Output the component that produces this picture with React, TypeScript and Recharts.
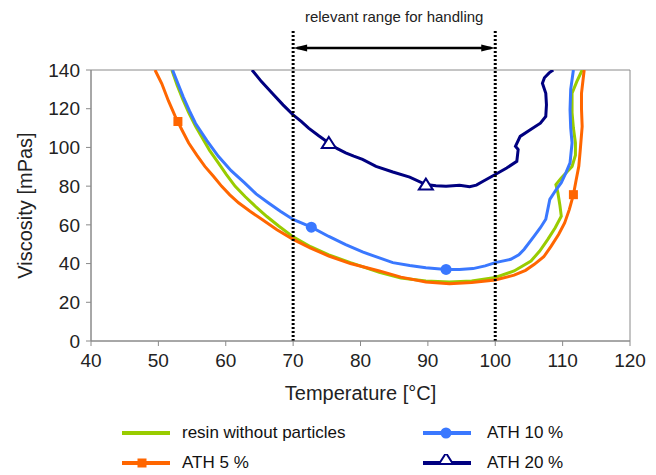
import {
  ComposedChart,
  Line,
  Scatter,
  XAxis,
  YAxis,
  ReferenceLine,
  ReferenceArea,
} from 'recharts';

const tempTicks = [40, 50, 60, 70, 80, 90, 100, 110, 120];
const viscTicks = [0, 20, 40, 60, 80, 100, 120, 140];
const handlingRange = [70, 100];
const handlingLabel = 'relevant range for handling';

// [temperature °C, viscosity mPas], read along each curve from top-left to top-right
const resinCurve = [
  [52, 140], [52.8, 132], [53.6, 125], [54.5, 118], [55.5, 111], [56.4, 105.6],
  [57.6, 98.5], [58.9, 92], [60.1, 86], [61.4, 79.9], [62.9, 74.5], [64.4, 69.6],
  [66.1, 64.3], [67.9, 59.3], [70, 53.8], [72.6, 48.7], [75.3, 44.5], [78.5, 40.5],
  [82.8, 35.5], [86, 32.5], [89.7, 31], [93.2, 30.5], [96.5, 31], [100, 32.8],
  [102.8, 36.2], [105.3, 41.3], [106.6, 46.5], [107.8, 52.5], [108.9, 58.5],
  [109.8, 64.5], [109.6, 70], [109.3, 76.5], [109, 80.8], [109.8, 84.2],
  [111.4, 90.2], [111.9, 96], [111.9, 102.3], [111.6, 110], [111.4, 118],
  [111.4, 128], [112.1, 134], [112.9, 140],
];

const ath5Curve = [
  [49.5, 140], [50.5, 133], [51.5, 124], [52.5, 116], [53.5, 109], [54.5, 102.3],
  [55.7, 96], [56.9, 90.2], [58.2, 85], [59.4, 79.9], [60.6, 75.5], [61.9, 71.4],
  [63.6, 67], [65.4, 62.8], [67.6, 57.5], [70, 52.5], [72.6, 48], [75.3, 43.9],
  [78.5, 40], [82.8, 36.2], [86, 33], [89.7, 30.5], [93.2, 29.6], [96.5, 30.2],
  [100, 31.5], [102.8, 34], [104.5, 36.5], [105.8, 39.6], [107.2, 43.5],
  [108.3, 49], [109.4, 55], [110.3, 61], [111, 68], [111.6, 75.6], [112, 83],
  [112.4, 90.2], [112.6, 98], [112.9, 110.8], [112.8, 120], [112.8, 128],
  [113.2, 140],
];

const ath10Curve = [
  [52.1, 140], [52.9, 133], [53.7, 126], [54.6, 119], [55.5, 112.5], [57.2, 103.5],
  [58.9, 95.4], [60.8, 88], [62.8, 81.7], [64.5, 76], [66.3, 71.4], [68.1, 67],
  [70, 62.8], [72.7, 58.8], [75.3, 54], [77.8, 49.8], [80.3, 46], [82.8, 42.9],
  [84.8, 40.5], [87.3, 39], [89.7, 37.9], [92.7, 37], [94.7, 37], [96.7, 37.4],
  [98.5, 38.8], [100, 40.5], [102.3, 42.2], [103.5, 44.5], [104.3, 47.4],
  [105.8, 54.3], [106.7, 58.5], [107.5, 62.9], [107.8, 68], [108.1, 73.2],
  [109, 78], [109.8, 81.8], [110.5, 87], [111.1, 92], [111.4, 102.3],
  [111.2, 110], [111.1, 119.5], [111.2, 130], [111.6, 140],
];

const ath20Curve = [
  [63.9, 140], [65.3, 134], [66.9, 128], [68.5, 122], [70, 116.8], [71.2, 113.5],
  [72.3, 110], [73.8, 106], [75.3, 102.3], [76.5, 99.5], [77.8, 97.2], [79, 95.5],
  [80.3, 93.8], [82.3, 90.2], [84.8, 87.3], [87.3, 84.7], [89.7, 80.8], [91.2, 80.2],
  [92.7, 80], [94.7, 80.5], [96.2, 79.7], [97.2, 80.5], [98.2, 82.5], [100, 86],
  [101.7, 89.4], [103.2, 92.8], [103.4, 98.9], [103, 100.6], [103.7, 105.7],
  [105.2, 109.1], [106.7, 112.5], [107.5, 116], [107.6, 122], [107.5, 128],
  [107, 133.1], [107.3, 136], [108, 138.5], [108.6, 140],
];

// single marker positions on each curve
const ath5Marks = [[52.9, 113.4], [111.6, 75.6]];
const ath10Marks = [[72.7, 58.8], [92.7, 37]];
const ath20Marks = [[75.3, 102.3], [89.7, 80.8]];

const toPts = (arr: number[][]) => arr.map(([t, v]) => ({ t, v }));

const FONT = '"Liberation Sans", Arial, sans-serif';
const AXIS = '#8a8a8a';

const series = [
  { key: 'resin', name: 'resin without particles', color: '#99cc00', curve: resinCurve, marks: [] as number[][], symbol: 'none' },
  { key: 'ath10', name: 'ATH 10 %', color: '#3a78ff', curve: ath10Curve, marks: ath10Marks, symbol: 'circle' },
  { key: 'ath5', name: 'ATH 5 %', color: '#ff6600', curve: ath5Curve, marks: ath5Marks, symbol: 'square' },
  { key: 'ath20', name: 'ATH 20 %', color: '#000080', curve: ath20Curve, marks: ath20Marks, symbol: 'triangle' },
];

function renderSymbol(symbol: string, cx: number, cy: number, color: string) {
  if (symbol === 'square') {
    return <rect x={cx - 4.5} y={cy - 4.5} width={9} height={9} fill={color} />;
  }
  if (symbol === 'circle') {
    return <circle cx={cx} cy={cy} r={5.5} fill={color} />;
  }
  if (symbol === 'triangle') {
    return (
      <polygon
        points={`${cx},${cy - 6} ${cx + 7},${cy + 5} ${cx - 7},${cy + 5}`}
        fill='#fff'
        stroke={color}
        strokeWidth={2}
      />
    );
  }
  return null;
}

function ArrowShape(props: any) {
  const { x1, y1, x2, y2 } = props;
  return (
    <g>
      <line x1={x1 + 4} y1={y1} x2={x2 - 4} y2={y2} stroke='#000' strokeWidth={2.5} />
      <polygon points={`${x1},${y1} ${x1 + 14},${y1 - 3.5} ${x1 + 14},${y1 + 3.5}`} fill='#000' />
      <polygon points={`${x2},${y2} ${x2 - 14},${y2 - 3.5} ${x2 - 14},${y2 + 3.5}`} fill='#000' />
      <text
        x={(x1 + x2) / 2}
        y={y1 - 26}
        textAnchor='middle'
        fontFamily={FONT}
        fontSize={15}
        fill='#222'
      >
        {handlingLabel}
      </text>
    </g>
  );
}

function YTitle({ viewBox }: any) {
  const x = viewBox.x + 32;
  const y = viewBox.y + viewBox.height / 2;
  return (
    <text
      x={x}
      y={y}
      transform={`rotate(-90 ${x} ${y})`}
      textAnchor='middle'
      fontFamily={FONT}
      fontSize={20}
      fill='#222'
    >
      Viscosity [mPas]
    </text>
  );
}

function LegendIcon({ color, symbol }: { color: string; symbol: string }) {
  // the legend triangle sits on the line, the other symbols are centred on it
  const cy = symbol === 'triangle' ? 5 : 9;
  const cx = symbol === 'square' ? 21 : 24;
  return (
    <svg width={50} height={18} style={{ display: 'block' }}>
      <line x1={1} y1={9} x2={49} y2={9} stroke={color} strokeWidth={4} />
      {renderSymbol(symbol, cx, cy, color)}
    </svg>
  );
}

const legendCols = [121, 422];
const legendRows = [433, 463];

export default function App() {
  return (
    <div
      style={{
        position: 'absolute',
        left: 0,
        top: 0,
        width: 656,
        height: 475,
        background: '#fff',
        fontFamily: FONT,
      }}
    >
      <ComposedChart
        width={656}
        height={475}
        margin={{ top: 70, right: 26, bottom: 69, left: 0 }}
      >
        <XAxis
          type='number'
          dataKey='t'
          domain={[40, 120]}
          ticks={tempTicks}
          allowDataOverflow
          stroke={AXIS}
          tickSize={5}
          tickMargin={8}
          height={65}
          tick={{ fill: '#222', fontSize: 19, fontFamily: FONT }}
          label={{
            value: 'Temperature [°C]',
            position: 'insideBottom',
            offset: 6,
            fill: '#222',
            fontSize: 20,
            fontFamily: FONT,
          }}
        />
        <YAxis
          type='number'
          dataKey='v'
          domain={[0, 140]}
          ticks={viscTicks}
          allowDataOverflow
          width={91}
          stroke={AXIS}
          tickSize={5}
          tickMargin={6}
          tick={{ fill: '#222', fontSize: 19, fontFamily: FONT }}
          label={{ content: YTitle }}
        />
        <ReferenceArea
          x1={40}
          x2={120}
          y1={0}
          y2={140}
          fill='none'
          stroke={AXIS}
          strokeWidth={1}
          ifOverflow='visible'
        />
        {series.map((s) => (
          <Line
            key={s.key}
            data={toPts(s.curve)}
            dataKey='v'
            name={s.name}
            stroke={s.color}
            strokeWidth={3}
            dot={false}
            activeDot={false}
            type='linear'
            isAnimationActive={false}
          />
        ))}
        {series
          .filter((s) => s.marks.length > 0)
          .map((s) => (
            <Scatter
              key={`${s.key}-marks`}
              data={toPts(s.marks)}
              dataKey='v'
              isAnimationActive={false}
              shape={(p: any) => renderSymbol(s.symbol, p.cx, p.cy, s.color)}
            />
          ))}
        {handlingRange.map((t) => (
          <ReferenceLine
            key={`range-${t}`}
            segment={[{ x: t, y: 0 }, { x: t, y: 160.7 }]}
            stroke='#000'
            strokeWidth={3}
            strokeDasharray='2 2'
            ifOverflow='visible'
          />
        ))}
        <ReferenceLine
          segment={[
            { x: handlingRange[0], y: 151.4 },
            { x: handlingRange[1], y: 151.4 },
          ]}
          ifOverflow='visible'
          shape={ArrowShape}
        />
      </ComposedChart>
      {series.map((s, i) => (
        <div
          key={`legend-${s.key}`}
          style={{
            position: 'absolute',
            left: legendCols[i % 2],
            top: legendRows[Math.floor(i / 2)] - 10,
            display: 'flex',
            alignItems: 'center',
            height: 20,
            fontSize: 17,
            color: '#111',
            whiteSpace: 'nowrap',
          }}
        >
          <LegendIcon color={s.color} symbol={s.symbol} />
          <span style={{ marginLeft: i % 2 === 0 ? 11 : 15 }}>{s.name}</span>
        </div>
      ))}
    </div>
  );
}
